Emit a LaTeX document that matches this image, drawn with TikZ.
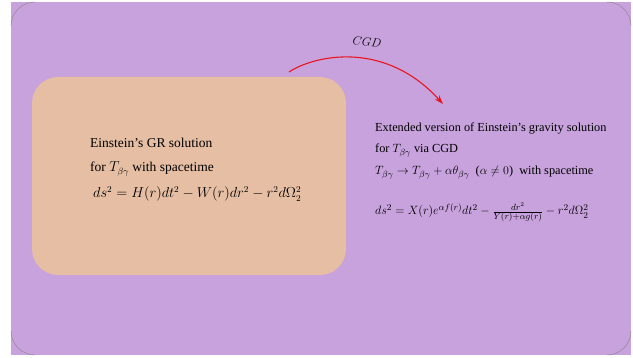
\documentclass[tikz,border=0pt]{standalone}
\usepackage{fontspec}
\setmainfont{Liberation Serif}
\usetikzlibrary{arrows.meta}
\definecolor{bgpurple}{RGB}{199,162,220}
\definecolor{boxorange}{RGB}{229,190,163}
\definecolor{arrowred}{RGB}{235,20,30}
\newcommand{\lsize}{\fontsize{13.5}{16}\selectfont}
\newcommand{\rsize}{\fontsize{12.3}{15}\selectfont}
\tikzset{
  lefttext/.style={anchor=base west, inner sep=0pt},
  righttext/.style={anchor=base west, inner sep=0pt},
  cornerarc/.style={draw=gray!75!bgpurple, line width=0.5pt, rounded corners=24pt},
}
\begin{document}
\begin{tikzpicture}[x=1pt,y=-1pt]
\useasboundingbox (0,0) rectangle (633,358);
\fill[white] (0,0) rectangle (633,358);
% background panel
\fill[bgpurple] (11,2) rectangle (631,355);
\path[cornerarc] (11,26) -- (11,2) -- (35,2);
\path[cornerarc] (607,2) -- (631,2) -- (631,26);
\path[cornerarc] (631,331) -- (631,355) -- (607,355);
\path[cornerarc] (35,355) -- (11,355) -- (11,331);
% left box
\fill[boxorange, rounded corners=26pt] (32,77) rectangle (346,275);
\node[lefttext] (l1) at (90,148) {\lsize Einstein's GR solution};
\node[lefttext] (l2) at (90,172) {\lsize for $T_{\beta\gamma}$ with spacetime};
\node[lefttext] (l3) at (93,198) {\lsize $ds^2=H(r)dt^2-W(r)dr^2-r^2d\Omega_2^2$};
% right text
\node[righttext] (r1) at (375,132) {\rsize Extended version of Einstein's gravity solution};
\node[righttext] (r2) at (375,153) {\rsize for $T_{\beta\gamma}$ via CGD};
\node[righttext] (r3) at (375,175) {\rsize $T_{\beta\gamma}\rightarrow T_{\beta\gamma}+\alpha\theta_{\beta\gamma}$\ \ ($\alpha\neq0$)\ \ with spacetime};
\node[righttext] (r4) at (375,215) {\rsize $ds^2=X(r)e^{\alpha f(r)}dt^2-\frac{dr^2}{Y(r)+\alpha g(r)}-r^2d\Omega_2^2$};
% arrow
\coordinate (as) at (289,72);
\coordinate (ae) at (443,104);
\draw[arrowred, line width=1.1pt, -{Stealth[length=9pt,width=6pt]}] (as) .. controls (315,55) and (385,40) .. (ae);
\node[rotate=-6] (cgd) at (367,42) {\fontsize{13}{16}\selectfont $CGD$};
\end{tikzpicture}
\end{document}
